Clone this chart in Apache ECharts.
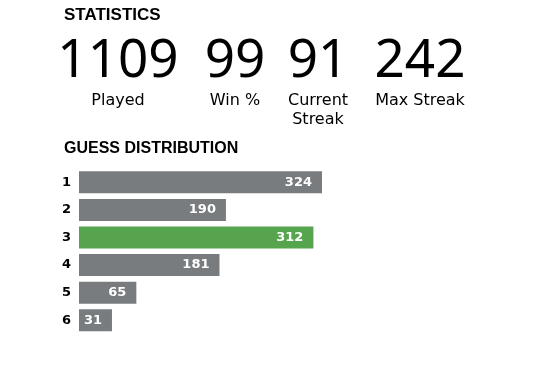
<!DOCTYPE html>
<html>
<head>
<meta charset="utf-8">
<script src="https://cdn.jsdelivr.net/npm/echarts@6/dist/echarts.min.js"></script>
<style>
  html, body { margin: 0; padding: 0; background: #fff; }
  #chart { width: 540px; height: 376px; }
</style>
</head>
<body>
<div id="chart"></div>
<script>
// stats row
const statValues = ['1109', '99', '91', '242'];
const statLabels = ['Played', 'Win %', 'Current\nStreak', 'Max Streak'];
const statCenters = [118, 235, 318, 420];

// guess distribution
const guesses = ['1', '2', '3', '4', '5', '6'];
const counts = [324, 190, 312, 181, 65, 31];
const lastGuess = 2; // highlighted bar (index)

const chart = echarts.init(document.getElementById('chart'));

const graphics = [
  {
    type: 'text', left: 64, top: 7,
    style: { text: 'STATISTICS', fontFamily: 'Liberation Sans', fontWeight: 'bold', fontSize: 17, fill: '#000' }
  },
  {
    type: 'text', left: 64, top: 141,
    style: { text: 'GUESS DISTRIBUTION', fontFamily: 'Liberation Sans', fontWeight: 'bold', fontSize: 16, fill: '#000' }
  }
];
statValues.forEach((v, i) => {
  graphics.push({
    type: 'text', x: statCenters[i], y: 62,
    style: { text: v, fontFamily: 'Noto Sans', fontSize: 53, fill: '#000', align: 'center', verticalAlign: 'middle' }
  });
  graphics.push({
    type: 'text', x: statCenters[i], y: 91,
    style: { text: statLabels[i], fontFamily: 'DejaVu Sans', fontSize: 16, lineHeight: 19, fill: '#000', align: 'center', verticalAlign: 'top' }
  });
});

const option = {
  animation: false,
  graphic: graphics,
  grid: { left: 79, right: 218, top: 168.5, height: 165.5, containLabel: false },
  xAxis: {
    type: 'value',
    min: -15,
    max: 324,
    startValue: -15,
    show: false
  },
  yAxis: {
    type: 'category',
    data: guesses,
    inverse: true,
    axisLine: { show: false },
    axisTick: { show: false },
    splitLine: { show: false },
    axisLabel: {
      margin: 8,
      fontFamily: 'DejaVu Sans',
      fontWeight: 'bold',
      fontSize: 13,
      color: '#000'
    }
  },
  series: [
    {
      type: 'bar',
      barWidth: 22,
      data: counts.map((c, i) => ({
        value: c,
        itemStyle: { color: i === lastGuess ? '#57a44f' : '#787c7e' }
      })),
      label: {
        show: true,
        position: 'insideRight',
        distance: 10,
        fontFamily: 'DejaVu Sans',
        fontWeight: 'bold',
        fontSize: 13,
        color: '#fff'
      }
    }
  ]
};

chart.setOption(option);
</script>
</body>
</html>
